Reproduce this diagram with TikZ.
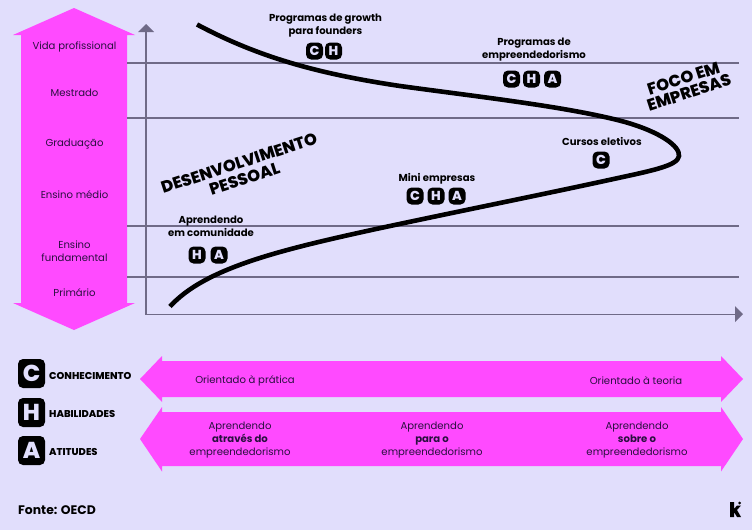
\documentclass[tikz,border=0pt]{standalone}
\usepackage{fontspec}
\setmainfont{Poppins}
\newfontfamily\heavy{Poppins ExtraBold}
\usetikzlibrary{calc}
\definecolor{bgc}{HTML}{E1DEFC}
\definecolor{mag}{HTML}{FF4AFF}
\definecolor{ln}{HTML}{6F6A87}
\definecolor{ink}{HTML}{2A1040}
\tikzset{
 x=1pt,y=-1pt,
 lvl/.style={font=\fontsize{10.1}{13}\selectfont,text=ink,align=center,inner sep=0pt},
 tag/.style={font=\bfseries\fontsize{10.1}{13}\selectfont,text=black,align=center,inner sep=0pt},
 key/.style={font=\heavy\fontsize{9.9}{10}\selectfont,text=black,anchor=west,inner sep=0pt},
 foco/.style={font=\heavy\fontsize{16.4}{16.4}\selectfont,text=black,align=center,inner sep=0pt,rotate=18},
 bad/.style={fill=black,text=bgc,rounded corners=5pt,minimum width=17pt,minimum height=17pt,inner sep=0pt,font=\heavy\fontsize{13}{13}\selectfont},
 bigbad/.style={fill=black,text=bgc,rounded corners=5pt,minimum width=27pt,minimum height=29pt,inner sep=0pt,font=\heavy\fontsize{23}{23}\selectfont},
 grid/.style={draw=ln,line width=1.4pt},
 ax/.style={draw=ln,line width=1.3pt},
 tip/.style={fill=ln,draw=none},
}
\begin{document}
\begin{tikzpicture}
\useasboundingbox (0,0) rectangle (752,530);
\fill[bgc] (0,0) rectangle (752,530);
% magenta arrows
\fill[mag] (74,8) -- (135,35) -- (127,35) -- (127,303) -- (135,303) -- (74,330) -- (13,303) -- (21,303) -- (21,35) -- (13,35) -- cycle;
\fill[mag] (140,379) -- (162,356) -- (162,361) -- (721,361) -- (721,356) -- (743,379) -- (721,402) -- (721,397) -- (162,397) -- (162,402) -- cycle;
\fill[mag] (140,439) -- (162,407) -- (162,412) -- (721,412) -- (721,407) -- (743,439) -- (721,471.5) -- (721,466) -- (162,466) -- (162,471.5) -- cycle;
% grid
\foreach \n/\y in {a/63,b/118,c/226,d/277}{
 \coordinate (\n l) at (127,\y);
 \coordinate (\n r) at (739,\y);
 \draw[grid] (\n l) -- (\n r);
}
% axes
\coordinate (o) at (146,314.2);
\coordinate (yt) at (146,30);
\coordinate (xt) at (736,314.2);
\draw[ax] (yt) -- (o) -- (xt);
\fill[tip] (146,24) -- (154,32) -- (138,32) -- cycle;
\fill[tip] (743,314.2) -- (735,306) -- (735,322) -- cycle;
% curve
\draw[line width=4.6pt,black] (197,24.5) .. controls (260,58) and (320,74) .. (400,86) .. controls (480,97) and (570,107) .. (625,122) .. controls (660,132) and (680,146) .. (679,156) .. controls (678,166) and (650,171) .. (609,180) .. controls (540,195) and (460,211) .. (376,229) .. controls (280,250) and (205,268) .. (170,306.5);
% left labels
\node[lvl] (l1) at (74.5,46.5) {Vida profissional};
\node[lvl] (l2) at (74.5,93) {Mestrado};
\node[lvl] (l3) at (74.5,144.5) {Graduação};
\node[lvl] (l4) at (74.5,195) {Ensino médio};
\node[lvl] (l5) at (74.5,251.5) {Ensino\\fundamental};
\node[lvl] (l6) at (74.5,293) {Primário};
% tags
\node[tag] (t1) at (325.5,26) {Programas de growth\\para founders};
\node[bad] (t1c) at (314.5,51) {C};
\node[bad] (t1h) at (333.5,51) {H};
\node[tag] (t2) at (534,49.5) {Programas de\\empreendedorismo};
\node[bad] (t2c) at (511.5,79) {C};
\node[bad] (t2h) at (531.5,79) {H};
\node[bad] (t2a) at (552.5,79) {A};
\node[tag] (t3) at (602,141) {Cursos eletivos};
\node[bad] (t3c) at (601,160) {C};
\node[tag] (t4) at (437,179) {Mini empresas};
\node[bad] (t4c) at (415,196) {C};
\node[bad] (t4h) at (436,196) {H};
\node[bad] (t4a) at (457,196) {A};
\node[tag] (t5) at (211,226.5) {Aprendendo\\em comunidade};
\node[bad] (t5h) at (197,255) {H};
\node[bad] (t5a) at (219,255) {A};
% slanted
\node[foco] (f1) at (239,163) {DESENVOLVIMENTO};
\node[foco] (f2) at (244.5,178.5) {PESSOAL};
\node[foco] (f3) at (683.5,78.5) {FOCO EM};
\node[foco] (f4) at (689,92.5) {EMPRESAS};
% legend
\node[bigbad] (kc) at (31.5,373.5) {C};
\node[bigbad] (kh) at (31.5,412.5) {H};
\node[bigbad] (ka) at (31.5,450.5) {A};
\node[key] (kct) at (49,376) {CONHECIMENTO};
\node[key] (kht) at (49,414) {HABILIDADES};
\node[key] (kat) at (49,452) {ATITUDES};
% arrow labels
\node[lvl] (o1) at (245,380.5) {Orientado à prática};
\node[lvl] (o2) at (636,380.5) {Orientado à teoria};
\node[lvl] (e1) at (240,440) {Aprendendo\\\textbf{através do}\\empreendedorismo};
\node[lvl] (e2) at (432,440) {Aprendendo\\\textbf{para o}\\empreendedorismo};
\node[lvl] (e3) at (637,440) {Aprendendo\\\textbf{sobre o}\\empreendedorismo};
\node[font=\bfseries\fontsize{12.4}{13}\selectfont,text=black,anchor=west,inner sep=0pt] (src) at (18,510) {Fonte: OECD};
% logo
\fill[black] (730,502) -- (734,502) -- (734,509) -- (737,505.5) -- (741,505.5) -- (737,510) -- (741,517) -- (737,517) -- (734,512) -- (734,517) -- (730,517) -- cycle;
\fill[black] (739.5,503) circle (1.5);
\end{tikzpicture}
\end{document}
